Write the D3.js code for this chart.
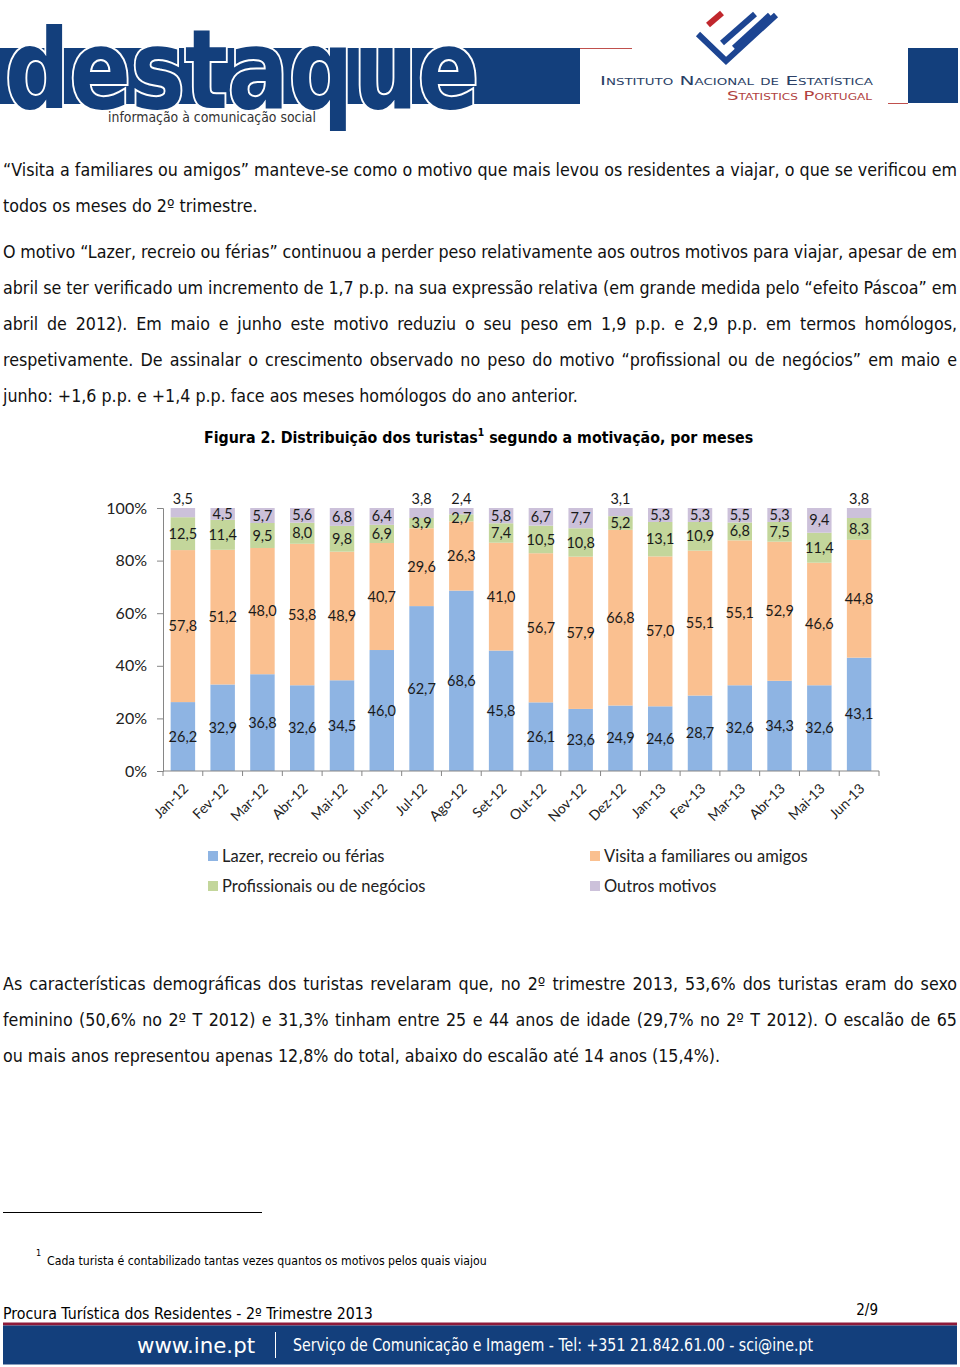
<!DOCTYPE html>
<html><head><meta charset="utf-8">
<script src="https://cdn.jsdelivr.net/npm/d3@7"></script>
<style>body{margin:0;background:#fff}svg{display:block}</style>
</head><body><svg id="page" width="960" height="1367"></svg>
<script>
// ---------- DATA ----------
const months = ["Jan-12","Fev-12","Mar-12","Abr-12","Mai-12","Jun-12","Jul-12","Ago-12","Set-12","Out-12","Nov-12","Dez-12","Jan-13","Fev-13","Mar-13","Abr-13","Mai-13","Jun-13"];
const lazer  = [26.2,32.9,36.8,32.6,34.5,46.0,62.7,68.6,45.8,26.1,23.6,24.9,24.6,28.7,32.6,34.3,32.6,43.1];
const visita = [57.8,51.2,48.0,53.8,48.9,40.7,29.6,26.3,41.0,56.7,57.9,66.8,57.0,55.1,55.1,52.9,46.6,44.8];
const prof   = [12.5,11.4,9.5,8.0,9.8,6.9,3.9,2.7,7.4,10.5,10.8,5.2,13.1,10.9,6.8,7.5,11.4,8.3];
const outros = [3.5,4.5,5.7,5.6,6.8,6.4,3.8,2.4,5.8,6.7,7.7,3.1,5.3,5.3,5.5,5.3,9.4,3.8];
const seriesKeys   = ["lazer","visita","prof","outros"];
const seriesNames  = ["Lazer, recreio ou férias","Visita a familiares ou amigos","Profissionais ou de negócios","Outros motivos"];
const seriesColors = ["#8EB4E3","#FAC090","#C3D69B","#CCC1DA"];
const yTicks = [0,20,40,60,80,100];

const para1 = ["“Visita a familiares ou amigos” manteve-se como o motivo que mais levou os residentes a viajar, o que se verificou em",
               "todos os meses do 2º trimestre."];
const para2 = ["O motivo “Lazer, recreio ou férias” continuou a perder peso relativamente aos outros motivos para viajar, apesar de em",
               "abril se ter verificado um incremento de 1,7 p.p. na sua expressão relativa (em grande medida pelo “efeito Páscoa” em",
               "abril de 2012). Em maio e junho este motivo reduziu o seu peso em 1,9 p.p. e 2,9 p.p. em termos homólogos,",
               "respetivamente. De assinalar o crescimento observado no peso do motivo “profissional ou de negócios” em maio e",
               "junho: +1,6 p.p. e +1,4 p.p. face aos meses homólogos do ano anterior."];
const para3 = ["As características demográficas dos turistas revelaram que, no 2º trimestre 2013, 53,6% dos turistas eram do sexo",
               "feminino (50,6% no 2º T 2012) e 31,3% tinham entre 25 e 44 anos de idade (29,7% no 2º T 2012). O escalão de 65",
               "ou mais anos representou apenas 12,8% do total, abaixo do escalão até 14 anos (15,4%)."];

// ---------- PAGE ----------
const svg = d3.select("#page");
const BLUE = "#133f7c";
const bodyFont = "'DejaVu Sans Condensed','DejaVu Sans',sans-serif";

function measure(text, family, weight, size){
  const t = svg.append("text").attr("font-family",family).attr("font-weight",weight)
     .attr("font-size",size).text(text);
  const w = t.node().getComputedTextLength(); t.remove(); return w;
}
function fit(text, family, weight, target){ return 100*target/measure(text,family,weight,100); }

// header
const hdr = svg.append("g");
hdr.append("rect").attr("x",0).attr("y",48).attr("width",580).attr("height",56).attr("fill",BLUE);
hdr.append("text").attr("x",5).attr("y",108).attr("font-family","'Liberation Sans Narrow','DejaVu Sans Condensed',sans-serif")
  .attr("font-weight","bold").attr("font-size",111).attr("fill",BLUE).attr("stroke","#fff").attr("stroke-width",4)
  .attr("paint-order","stroke").attr("textLength",474).attr("lengthAdjust","spacingAndGlyphs").text("destaque");
hdr.append("text").attr("x",108).attr("y",122).attr("font-family","'Liberation Sans Narrow','DejaVu Sans Condensed',sans-serif")
  .attr("font-size",14).attr("fill","#333").attr("textLength",208).attr("lengthAdjust","spacingAndGlyphs")
  .text("informação à comunicação social");
hdr.append("line").attr("x1",580).attr("x2",632).attr("y1",48.5).attr("y2",48.5).attr("stroke","#c0504d").attr("stroke-width",1);
hdr.append("line").attr("x1",888).attr("x2",908).attr("y1",103.5).attr("y2",103.5).attr("stroke","#c0504d").attr("stroke-width",1);
hdr.append("rect").attr("x",908).attr("y",48).attr("width",50).attr("height",55).attr("fill",BLUE);
// INE symbol
hdr.append("line").attr("x1",708).attr("y1",25).attr("x2",722).attr("y2",13).attr("stroke","#c0272d").attr("stroke-width",6);
hdr.append("line").attr("x1",722).attr("y1",43).attr("x2",755).attr("y2",14).attr("stroke","#1d4592").attr("stroke-width",6);
hdr.append("line").attr("x1",734).attr("y1",48).attr("x2",770).attr("y2",15).attr("stroke","#1d4592").attr("stroke-width",6);
hdr.append("path").attr("d","M698,34 L726,61 L776,15").attr("fill","none").attr("stroke","#1d4592").attr("stroke-width",6);
hdr.append("text").attr("x",600).attr("y",85).attr("font-family","'DejaVu Sans',sans-serif").attr("font-size",12)
  .attr("font-variant","small-caps").attr("fill","#2b3f66").attr("textLength",273).attr("lengthAdjust","spacingAndGlyphs")
  .text("Instituto Nacional de Estatística");
hdr.append("text").attr("x",727).attr("y",100).attr("font-family","'DejaVu Sans',sans-serif").attr("font-size",12)
  .attr("font-variant","small-caps").attr("fill","#b0413e").attr("textLength",145).attr("lengthAdjust","spacingAndGlyphs")
  .text("Statistics Portugal");

// paragraphs
const lastLines = [[para1[1],254],[para2[4],577],[para3[2],717]];
const bodySize = d3.mean(lastLines, d=>fit(d[0],bodyFont,"normal",d[1]));
function drawPara(lines, y0){
  lines.forEach((ln,i)=>{
    const t = svg.append("text").attr("x",3).attr("y",y0+i*36).attr("font-family",bodyFont)
      .attr("font-size",bodySize).attr("fill","#111").text(ln);
    if(i<lines.length-1){
      const w = t.node().getComputedTextLength();
      const n = (ln.match(/ /g)||[]).length;
      t.style("word-spacing",((954-w)/n)+"px");
    }
  });
}
drawPara(para1,176);
drawPara(para2,258);
drawPara(para3,990);

// figure title
const titleTxt = "Figura 2. Distribuição dos turistas";
const titleSize = fit("Figura 2. Distribuição dos turistas1 segundo a motivação, por meses", bodyFont, "bold", 553);
const tt = svg.append("text").attr("x",204).attr("y",443).attr("font-family",bodyFont).attr("font-weight","bold")
  .attr("font-size",titleSize).attr("fill","#000");
tt.append("tspan").text(titleTxt);
tt.append("tspan").attr("font-size",titleSize*0.65).attr("dy",-7).text("1");
tt.append("tspan").attr("dy",7).text(" segundo a motivação, por meses");

// ---------- CHART ----------
const chartFont = "Lato,'Open Sans',sans-serif";
const table = months.map((m,i)=>({month:m, lazer:lazer[i], visita:visita[i], prof:prof[i], outros:outros[i]}));
const stacked = d3.stack().keys(seriesKeys)(table);
const x = d3.scaleBand().domain(months).range([163,879]).paddingInner(0.385).paddingOuter(0.1925);
const y = d3.scaleLinear().domain([0,100]).range([771,508]);
const color = d3.scaleOrdinal().domain(seriesKeys).range(seriesColors);
const g = svg.append("g");

const layers = g.selectAll("g.layer").data(stacked).join("g").attr("class","layer").attr("fill",d=>color(d.key));
layers.selectAll("rect").data(d=>d).join("rect")
  .attr("x",d=>x(d.data.month)).attr("width",x.bandwidth())
  .attr("y",d=>y(d[1])).attr("height",d=>y(d[0])-y(d[1]));

// data labels
const lbl = g.append("g").attr("font-family",chartFont).attr("font-size",14.5).attr("fill","#1a1a1a").attr("text-anchor","middle");
stacked.forEach(layer=>{
  layer.forEach(d=>{
    const v = d.data[layer.key];
    let cy = (y(d[0])+y(d[1]))/2;
    if(layer.key==="outros" && v<4) cy = y(100)-9;
    lbl.append("text").attr("x",x(d.data.month)+x.bandwidth()/2).attr("y",cy).attr("dy","0.35em")
      .text(d3.format(".1f")(v).replace(".",","));
  });
});

// y axis
const yAxis = g.append("g").attr("transform","translate(163,0)")
  .call(d3.axisLeft(y).tickValues(yTicks).tickFormat(d=>d+"%").tickSize(6).tickPadding(10));
yAxis.select(".domain").attr("stroke","#868686");
yAxis.selectAll(".tick line").attr("stroke","#868686");
yAxis.selectAll("text").attr("font-family",chartFont).attr("font-size",16).attr("fill","#222");

// x axis
const gap = x.step()*x.paddingInner()/2;
const bounds = months.map(m=>x(m)-gap).concat([x(months[months.length-1])+x.bandwidth()+gap]);
g.append("line").attr("x1",x.range()[0]).attr("x2",x.range()[1]).attr("y1",y(0)).attr("y2",y(0)).attr("stroke","#868686");
g.selectAll("line.xt").data(bounds).join("line").attr("class","xt")
  .attr("x1",d=>d).attr("x2",d=>d).attr("y1",y(0)).attr("y2",y(0)+5).attr("stroke","#868686");
g.selectAll("text.xl").data(months).join("text").attr("class","xl")
  .attr("transform",d=>`translate(${x(d)+x.bandwidth()/2+3},${y(0)+15}) rotate(-45)`)
  .attr("text-anchor","end").attr("dy","0.35em").attr("font-family",chartFont).attr("font-size",14).attr("fill","#222")
  .text(d=>d);

// legend
const legPos = [[208,856],[590,856],[208,886],[590,886]];
const legOrder = [0,1,2,3];
const leg = g.selectAll("g.leg").data(legOrder).join("g").attr("class","leg")
  .attr("transform",(d,i)=>`translate(${legPos[i][0]},${legPos[i][1]})`);
leg.append("rect").attr("x",0).attr("y",-5).attr("width",10).attr("height",10).attr("fill",d=>seriesColors[d]);
leg.append("text").attr("x",14).attr("dy","0.35em").attr("font-family",chartFont).attr("font-size",16.5).attr("fill","#222")
  .text(d=>seriesNames[d]);

// ---------- FOOTNOTE & FOOTER ----------
svg.append("line").attr("x1",3).attr("x2",262).attr("y1",1212.5).attr("y2",1212.5).attr("stroke","#000");
svg.append("text").attr("x",36).attr("y",1256).attr("font-family",bodyFont).attr("font-size",9).attr("fill","#000").text("1");
const fnText = "Cada turista é contabilizado tantas vezes quantos os motivos pelos quais viajou";
svg.append("text").attr("x",47).attr("y",1265).attr("font-family",bodyFont)
  .attr("font-size",fit(fnText,bodyFont,"normal",440)).attr("fill","#000").text(fnText);
const ftText = "Procura Turística dos Residentes - 2º Trimestre 2013";
svg.append("text").attr("x",3).attr("y",1319).attr("font-family",bodyFont)
  .attr("font-size",fit(ftText,bodyFont,"normal",370)).attr("fill","#000").text(ftText);
svg.append("text").attr("x",878).attr("y",1315).attr("text-anchor","end").attr("font-family",bodyFont)
  .attr("font-size",15).attr("fill","#000").text("2/9");
svg.append("rect").attr("x",3).attr("y",1322.5).attr("width",954).attr("height",3).attr("fill","#8e1b3a");
svg.append("rect").attr("x",3).attr("y",1325.5).attr("width",954).attr("height",39).attr("fill",BLUE);
svg.append("text").attr("x",137).attr("y",1353).attr("font-family",bodyFont).attr("font-size",22).attr("fill","#fff")
  .attr("textLength",118).attr("lengthAdjust","spacingAndGlyphs").text("www.ine.pt");
svg.append("line").attr("x1",275.5).attr("x2",275.5).attr("y1",1332).attr("y2",1358).attr("stroke","#fff");
const svcText = "Serviço de Comunicação e Imagem - Tel: +351 21.842.61.00 - sci@ine.pt";
svg.append("text").attr("x",293).attr("y",1351).attr("font-family",bodyFont).attr("font-size",17).attr("fill","#fff")
  .attr("textLength",520).attr("lengthAdjust","spacingAndGlyphs").text(svcText);
</script></body></html>
